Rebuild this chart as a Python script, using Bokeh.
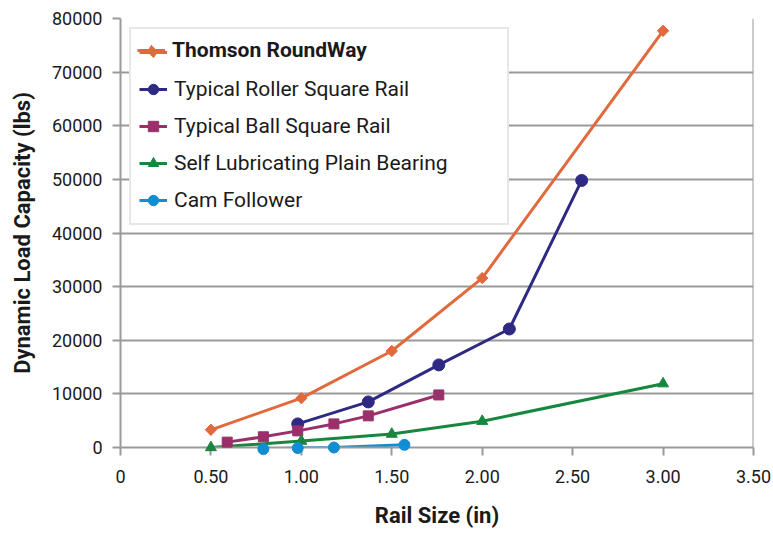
import numpy as np
from bokeh.plotting import figure
from bokeh.models import Range1d, FixedTicker, Legend, LegendItem, Span
from bokeh.embed import file_html
from bokeh.resources import INLINE

# ---- data ----
x_ticks = [0, 0.5, 1.0, 1.5, 2.0, 2.5, 3.0, 3.5]
x_tick_labels = ["0", "0.50", "1.00", "1.50", "2.00", "2.50", "3.00", "3.50"]
y_ticks = [0, 10000, 20000, 30000, 40000, 50000, 60000, 70000, 80000]
y_tick_labels = ["0", "10000", "20000", "30000", "40000", "50000", "60000", "70000", "80000"]

roundway_x = [0.5, 1.0, 1.5, 2.0, 3.0]
roundway_y = [3300, 9200, 18000, 31600, 77700]
roller_x = [0.98, 1.37, 1.76, 2.15, 2.55]
roller_y = [4400, 8500, 15400, 22100, 49800]
ball_x = [0.59, 0.79, 0.98, 1.18, 1.37, 1.76]
ball_y = [1000, 2000, 3100, 4400, 5900, 9800]
plain_x = [0.5, 1.0, 1.5, 2.0, 3.0]
plain_y = [0, 1200, 2500, 4900, 11900]
cam_x = [0.79, 0.98, 1.18, 1.57]
cam_y = [-300, -100, 0, 500]

names = ["Thomson RoundWay", "Typical Roller Square Rail", "Typical Ball Square Rail",
         "Self Lubricating Plain Bearing", "Cam Follower"]

FONT = "Roboto"
TXT = "#1a1a1a"
GRID = "#9a9a9a"

p = figure(width=773, height=533, x_range=Range1d(0, 3.5), y_range=Range1d(0, 80000),
           output_backend="svg", toolbar_location=None,
           min_border_left=120, min_border_right=20, min_border_top=18, min_border_bottom=86)
p.outline_line_color = None
p.background_fill_color = "white"
p.border_fill_color = "white"

p.xgrid.visible = False
p.ygrid.grid_line_color = GRID
p.ygrid.grid_line_width = 2
p.ygrid.ticker = FixedTicker(ticks=y_ticks)

p.xaxis.ticker = FixedTicker(ticks=x_ticks)
p.xaxis.major_label_overrides = {t: l for t, l in zip(x_ticks, x_tick_labels)}
p.yaxis.ticker = FixedTicker(ticks=y_ticks)
p.yaxis.major_label_overrides = {t: l for t, l in zip(y_ticks, y_tick_labels)}

for ax in (p.xaxis, p.yaxis):
    ax.axis_line_color = GRID
    ax.axis_line_width = 2
    ax.major_tick_line_color = GRID
    ax.major_tick_line_width = 2
    ax.major_tick_out = 8
    ax.major_tick_in = 0
    ax.minor_tick_line_color = None
    ax.major_label_text_font = FONT
    ax.major_label_text_font_size = "18px"
    ax.major_label_text_color = TXT
    ax.axis_label_text_font = FONT
    ax.axis_label_text_font_style = "bold"
    ax.axis_label_text_font_size = "22px"
    ax.axis_label_text_color = TXT

p.xaxis.axis_label = "Rail Size (in)"
p.yaxis.axis_label = "Dynamic Load Capacity (lbs)"
p.xaxis.major_label_standoff = 14
p.xaxis.axis_label_standoff = 17
p.yaxis.major_label_standoff = 10
p.yaxis.axis_label_standoff = 14

p.add_layout(Span(location=3.5, dimension="height", line_color=GRID, line_width=2))

series = [
    (roundway_x, roundway_y, "#E2693B", "square", 8, np.pi / 4),
    (roller_x, roller_y, "#2E2A83", "circle", 12, 0),
    (ball_x, ball_y, "#9B2F6A", "square", 10, 0),
    (plain_x, plain_y, "#17873F", "triangle", 11, 0),
    (cam_x, cam_y, "#118DD4", "circle", 11, 0),
]

rends = []
for i, (xs, ys, c, m, sz, ang) in enumerate(series):
    ln = p.line(xs, ys, line_color=c, line_width=3)
    group = [ln]
    if i == 0:
        # diamond used for the legend key, hidden under the rotated squares on the plot
        dm = p.scatter(xs, ys, marker="diamond", size=10, fill_color=c, line_color=c,
                       level="overlay")
        group.append(dm)
    sc = p.scatter(xs, ys, marker=m, size=sz, angle=ang, fill_color=c, line_color=c,
                   level="overlay")
    if i != 0:
        group.append(sc)
    rends.append(group)

common = dict(location="top_left", margin=9, padding=8, spacing=7,
              label_height=30, glyph_width=28, glyph_height=26, label_standoff=7,
              label_text_font=FONT, label_text_font_size="21px", label_text_color=TXT)

items_b = [LegendItem(label=" ", renderers=rends[0])] + \
          [LegendItem(label=n, renderers=r) for n, r in zip(names[1:], rends[1:])]
leg_b = Legend(items=items_b, label_width=325, border_line_color="#cfcfcf",
               border_line_width=2, background_fill_color="white",
               background_fill_alpha=1.0, **common)
leg_a = Legend(items=[LegendItem(label=names[0], renderers=rends[0])],
               border_line_alpha=0, background_fill_alpha=0,
               label_text_font_style="bold", **common)
p.add_layout(leg_b)
p.add_layout(leg_a)

open("out.html", "w").write(file_html(p, INLINE))
